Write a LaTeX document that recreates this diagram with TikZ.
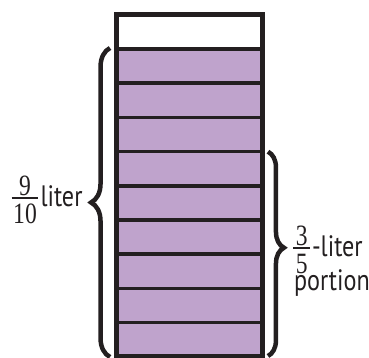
\documentclass[tikz,border=0pt]{standalone}
\usepackage{fontspec}
\usetikzlibrary{decorations.pathreplacing}
\newfontfamily\lblsans[FakeStretch=0.82]{PT Sans}
\newfontfamily\lbldig[FakeStretch=0.8]{Liberation Serif}
\definecolor{barfill}{RGB}{191,163,204}
\definecolor{inkcol}{RGB}{35,31,32}
\begin{document}
\begin{tikzpicture}[x=1bp,y=1bp,
  lbl/.style={inner sep=0pt, outer sep=0pt, text=inkcol,
    font=\fontsize{29.5bp}{34bp}\selectfont\lblsans},
  dig/.style={inner sep=0pt, outer sep=0pt, text=inkcol, anchor=base,
    font=\fontsize{29.5bp}{34bp}\selectfont\lbldig},
  fracbar/.style={draw=inkcol, line width=1.7bp},
  bracestyle/.style 2 args={draw=inkcol, line width=4.5bp, decorate,
    decoration={brace, amplitude=#1, aspect=#2}},
  divider/.style={draw=inkcol, line width=3.7bp},
  frame/.style={draw=inkcol, line width=5.2bp}]
\useasboundingbox (0,0) rectangle (369,358);
% bar
\fill[barfill] (116.2,1.2) rectangle (262.5,309);
\foreach \k in {1,...,9}
  \draw[divider] (116.2,{343.2-34.2*\k}) -- (262.5,{343.2-34.2*\k});
\draw[frame] (116.2,1.2) rectangle (262.5,343.2);
% braces
\coordinate (lb1) at (110,1);
\coordinate (lb2) at (110,310);
\draw[bracestyle={19}{0.5}] (lb1) -- (lb2);
\coordinate (rb1) at (268,206.3);
\coordinate (rb2) at (268,2);
\draw[bracestyle={16}{0.47}] (rb1) -- (rb2);
% left label
\node[dig] (nine) at (25,163) {9};
\node[dig] (ten) at (25,135) {10};
\coordinate (lf1) at (11.7,159.7);
\coordinate (lf2) at (38.3,159.7);
\draw[fracbar] (lf1) -- (lf2);
\node[lbl, anchor=base west] (liter) at (40.5,151.3) {liter};
% right label
\node[dig] (three) at (301.7,113) {3};
\node[dig] (five) at (301.7,85) {5};
\coordinate (rf1) at (293.3,109.7);
\coordinate (rf2) at (310,109.7);
\draw[fracbar] (rf1) -- (rf2);
\node[lbl, anchor=base west] (rliter) at (312,101.3) {-liter};
\node[lbl, anchor=base west] (portion) at (294,67.3) {portion};
\end{tikzpicture}
\end{document}
